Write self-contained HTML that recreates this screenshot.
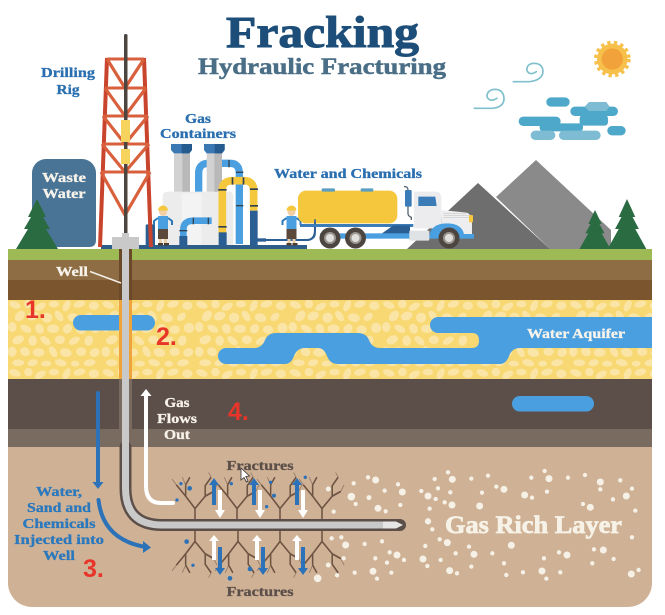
<!DOCTYPE html>
<html><head><meta charset="utf-8"><title>Fracking</title>
<style>html,body{margin:0;padding:0;background:#fff}svg{display:block}
text{font-family:"Liberation Serif",serif;font-weight:bold}</style></head>
<body>
<svg width="665" height="615" viewBox="0 0 665 615" xmlns="http://www.w3.org/2000/svg">
<defs>
<pattern id="peb" width="110" height="80" patternUnits="userSpaceOnUse" patternTransform="translate(8 299) scale(.85)">
<rect width="110" height="80" fill="#f7d873"/>
<g fill="#fbe5a6">
<ellipse cx="8" cy="7" rx="7" ry="4" transform="rotate(20 8 7)"/><ellipse cx="24" cy="6" rx="5" ry="5"/><ellipse cx="38" cy="9" rx="7" ry="4" transform="rotate(-30 38 9)"/><ellipse cx="54" cy="6" rx="6" ry="4"/><ellipse cx="69" cy="8" rx="4" ry="7" transform="rotate(25 69 8)"/><ellipse cx="84" cy="6" rx="7" ry="4" transform="rotate(-15 84 6)"/><ellipse cx="101" cy="8" rx="6" ry="5"/>
<ellipse cx="14" cy="20" rx="5" ry="7" transform="rotate(40 14 20)"/><ellipse cx="29" cy="20" rx="7" ry="5" transform="rotate(-20 29 20)"/><ellipse cx="46" cy="22" rx="6" ry="6"/><ellipse cx="60" cy="20" rx="4" ry="7" transform="rotate(-35 60 20)"/><ellipse cx="77" cy="22" rx="7" ry="5" transform="rotate(15 77 22)"/><ellipse cx="94" cy="21" rx="6" ry="4" transform="rotate(-40 94 21)"/>
<ellipse cx="5" cy="33" rx="5" ry="6"/><ellipse cx="21" cy="35" rx="7" ry="4" transform="rotate(30 21 35)"/><ellipse cx="37" cy="35" rx="5" ry="6" transform="rotate(-25 37 35)"/><ellipse cx="53" cy="35" rx="7" ry="5"/><ellipse cx="70" cy="35" rx="5" ry="6" transform="rotate(35 70 35)"/><ellipse cx="86" cy="36" rx="6" ry="5"/><ellipse cx="103" cy="34" rx="6" ry="6"/>
<ellipse cx="12" cy="48" rx="7" ry="5" transform="rotate(-25 12 48)"/><ellipse cx="29" cy="49" rx="5" ry="6"/><ellipse cx="44" cy="49" rx="7" ry="4" transform="rotate(40 44 49)"/><ellipse cx="61" cy="48" rx="6" ry="5"/><ellipse cx="78" cy="49" rx="7" ry="4" transform="rotate(-30 78 49)"/><ellipse cx="95" cy="49" rx="5" ry="6" transform="rotate(20 95 49)"/>
<ellipse cx="5" cy="62" rx="5" ry="6"/><ellipse cx="20" cy="62" rx="6" ry="5" transform="rotate(30 20 62)"/><ellipse cx="36" cy="63" rx="7" ry="5"/><ellipse cx="53" cy="62" rx="4" ry="7" transform="rotate(-30 53 62)"/><ellipse cx="68" cy="63" rx="7" ry="5" transform="rotate(15 68 63)"/><ellipse cx="86" cy="62" rx="6" ry="5"/><ellipse cx="102" cy="63" rx="6" ry="5" transform="rotate(-25 102 63)"/>
<ellipse cx="12" cy="75" rx="7" ry="4"/><ellipse cx="29" cy="75" rx="6" ry="4" transform="rotate(-15 29 75)"/><ellipse cx="45" cy="76" rx="6" ry="3.5"/><ellipse cx="62" cy="75" rx="7" ry="4" transform="rotate(15 62 75)"/><ellipse cx="79" cy="76" rx="5" ry="3.5"/><ellipse cx="96" cy="75" rx="7" ry="4" transform="rotate(-10 96 75)"/>
</g></pattern>
<g id="frac" fill="none" stroke="#6d5342" stroke-linejoin="round">
<path d="M0 0V-11L-11-24V-36L-6-44M-11-24L-22-36" stroke-width="1.800"/>
<path d="M0-11L12-24V-35L19-44M12-24L22-29" stroke-width="1.800"/>
<path d="M-22-36L-27-42M-11-36L-15-44M22-29L26-36M19-44L16-49" stroke-width=".8" stroke="#8a6f5c"/>
</g>
<g id="tree"><path d="M0-50L9-32H6L13-20H9L21 0H-21L-9-20H-13L-6-32H-9Z" fill="#2a6b42"/></g>
<g id="man">
<rect x="-5" y="22" width="10" height="11" fill="#5b4a3c"/>
<rect x="-4" y="33" width="3" height="5" fill="#ead0a8"/><rect x="1" y="33" width="3" height="5" fill="#ead0a8"/>
<rect x="-5" y="37" width="5" height="2.500" fill="#4d3d30"/><rect x="1" y="37" width="5" height="2.500" fill="#4d3d30"/>
<rect x="-5" y="10" width="10" height="13" fill="#4a9fe0"/>
<path d="M-5 12L-9 15V19M5 12L9 15V19" stroke="#2f79b8" stroke-width="2" fill="none"/>
<circle cx="0" cy="6" r="4" fill="#f2cfa5"/>
<path d="M-5 4.500A5 5 0 0 1 5 4.500Z" fill="#f5c73d"/>
</g>
<g id="wh"><circle r="10.500" fill="#4d4540"/><circle r="6" fill="#9b9690"/><circle r="4" fill="#e2e0dc"/></g>
</defs>

<!-- strata -->
<path d="M8 249H652V583A24 24 0 0 1 628 607H32A24 24 0 0 1 8 583Z" fill="#cfb296"/>
<rect x="8" y="249" width="644" height="11" fill="#9dba55"/>
<rect x="8" y="260" width="644" height="20" fill="#8e6d45"/>
<rect x="8" y="280" width="644" height="20" fill="#7a552e"/>
<rect x="8" y="300" width="644" height="79" fill="url(#peb)"/>
<rect x="8" y="379" width="644" height="50" fill="#5c4f49"/>
<rect x="8" y="429" width="644" height="18" fill="#7a6b60"/>

<!-- water -->
<g fill="#4a9fe0">
<rect x="73" y="315" width="82" height="15.500" rx="7.700"/>
<rect x="512" y="396" width="82" height="15.500" rx="7.700"/>
<path d="M652 317H438A8 8 0 0 0 438 333H472Q479 333 479 340.500Q479 348 472 348H380Q372 348 369 340Q366 333 358 333H276Q268 333 265 340Q262 348 254 348H226A8 8 0 0 0 226 364H285Q291 364 294 356Q297 348 305 348H318Q324 348 327 356Q330 364 338 364H500Q506 364 509 356Q512 348 520 348H652Z"/>
</g>

<!-- mountains -->
<polygon points="496,197 536,160 611,230 611,249 550,249" fill="#8a8a8a"/>
<polygon points="407,249 478,183 550,249" fill="#6e6e6e"/>
<use href="#tree" transform="translate(595,249) scale(.74,.78)"/>
<use href="#tree" transform="translate(627,249) scale(.92,1)"/>

<!-- waste tank -->
<path d="M32 247V173A14 14 0 0 1 46 159H82A14 14 0 0 1 96 173V240Q96 247 89 247Z" fill="#4a7496"/>
<use href="#tree" transform="translate(37,249)"/>

<!-- sun, wind, clouds (zoom coords) -->
<g transform="translate(333,0) scale(.3333)">
<circle cx="838" cy="177" r="46" fill="#f7c04a"/>
<circle cx="838" cy="177" r="50" fill="none" stroke="#f7c04a" stroke-width="10" stroke-dasharray="10 10"/>
<circle cx="838" cy="177" r="32" fill="#f2a23a"/>
<g fill="none" stroke="#7fc0cc" stroke-width="5" stroke-linecap="round">
<path d="M541 245H590Q630 240 630 213Q628 190 602 190Q580 192 582 212Q590 228 610 215"/>
<path d="M424 325H480Q515 320 513 293Q510 268 485 268Q462 270 462 290Q470 308 492 295"/>
</g>
<g fill="#4ea8c9">
<rect x="640" y="292" width="70" height="28" rx="14"/>
<rect x="712" y="320" width="143" height="28" rx="14"/>
<rect x="740" y="345" width="85" height="32" rx="10"/>
<rect x="557" y="350" width="126" height="28" rx="14"/>
<rect x="620" y="370" width="130" height="24" rx="10"/>
<rect x="823" y="378" width="55" height="28" rx="14"/>
</g>
<g fill="#7dbcd2">
<polygon points="768,306 820,306 830,320 820,333 768,333 755,320"/>
<rect x="593" y="392" width="74" height="28" rx="14"/>
<rect x="678" y="392" width="125" height="28" rx="14"/>
</g>
</g>

<!-- base plate -->
<rect x="101" y="245" width="206" height="4" fill="#2f5d8a"/>

<!-- gas containers (zoom6 coords) -->
<g transform="translate(140,130) scale(.3333)">
<path d="M68 345V200Q68 185 85 185H265Q280 185 280 200V345Z" fill="#ececec"/>
<rect x="125" y="190" width="60" height="155" fill="#f3f3f3"/>
<g fill="none" stroke-linejoin="round">
<path d="M176 185V130Q176 100 206 100H270Q298 100 298 130V342" stroke="#4a9fe0" stroke-width="22"/>
</g>
<rect x="102" y="70" width="48" height="115" fill="#d2d2d2"/><rect x="127" y="70" width="23" height="115" fill="#b9b9b9"/>
<rect x="200" y="70" width="46" height="115" fill="#d2d2d2"/><rect x="223" y="70" width="23" height="115" fill="#b9b9b9"/>
<path d="M93 42H156V60L148 70H102L93 60Z" fill="#3a78b4"/>
<path d="M192 42H254V60L246 70H200L192 60Z" fill="#3a78b4"/>
<path d="M125 42H156V60L148 70H125Z" fill="#255b8f"/>
<path d="M224 42H254V60L246 70H224Z" fill="#255b8f"/>
<g fill="none" stroke-linejoin="round">
<path d="M130 320V300Q130 272 160 272H215" stroke="#4a9fe0" stroke-width="20"/>
<path d="M247 310V180Q247 152 278 152H312Q341 152 341 182V242" stroke="#f5c73d" stroke-width="23"/>
<path d="M350 330H500Q525 330 525 300V268" stroke="#2b5f94" stroke-width="6"/>
</g>
<rect x="236" y="307" width="24" height="40" fill="#2b5f94"/>
<rect x="330" y="242" width="23" height="105" fill="#2b5f94"/>
<rect x="352" y="325" width="26" height="10" fill="#2b5f94"/>
<rect x="118" y="318" width="24" height="32" fill="#2b5f94"/>
<g fill="#33424f"><rect x="235" y="177" width="25" height="5"/><rect x="330" y="175" width="24" height="5"/><rect x="235" y="288" width="25" height="5"/><rect x="330" y="225" width="24" height="5"/><rect x="288" y="225" width="22" height="4"/><rect x="288" y="125" width="22" height="4"/><rect x="265" y="90" width="4" height="22"/><rect x="275" y="142" width="5" height="22"/><rect x="308" y="142" width="5" height="22"/><rect x="158" y="263" width="4" height="20"/><rect x="203" y="263" width="4" height="20"/><rect x="118" y="300" width="24" height="4"/></g>
<rect x="17" y="283" width="28" height="65" rx="4" fill="#2b5f94"/>
</g>

<!-- rig -->
<g fill="none" stroke="#c8442c">
<path d="M107 58L100 247M144 58L151 247" stroke-width="4"/>
<path d="M107 59H144M105 88H146M103 116H148M102 144H149M101 172H150" stroke="#d9603c" stroke-width="3"/>
<path d="M107 59L125 88L144 59M105 88L125 116L146 88M103 116L125 144L148 116M102 144L125 172L149 144M101 172L125 215L150 172" stroke="#d9603c" stroke-width="3.200"/>
</g>
<rect x="124" y="34" width="3.500" height="204" rx="1.500" fill="#4d4540"/>
<rect x="121" y="120" width="9" height="22" fill="#f6d35c"/>
<rect x="121" y="149" width="9" height="15" fill="#f6d35c"/>
<use href="#man" transform="translate(163,206)"/>
<use href="#man" transform="translate(291.500,206)"/>

<!-- truck (zoom7 coords: 270,160) -->
<g transform="translate(270,160) scale(.3333)">
<rect x="84" y="92" width="298" height="98" rx="24" fill="#f5c73d"/>
<rect x="155" y="85" width="40" height="10" rx="3" fill="#5b9ec4"/><rect x="272" y="85" width="38" height="10" rx="3" fill="#5b9ec4"/>
<path d="M135 178V220Q135 238 110 240" fill="none" stroke="#2b5f94" stroke-width="5"/>
<rect x="90" y="192" width="340" height="9" fill="#3b7cb8"/>
<rect x="150" y="201" width="270" height="20" fill="#fff"/>
<polygon points="335,221 370,196 420,196 420,221" fill="#2b5f94"/>
<rect x="150" y="220" width="290" height="16" fill="#4a9fe0"/>
<path d="M432 95H495Q512 95 514 112V205H432Z" fill="#ececee"/>
<polygon points="445,110 496,110 500,138 445,138" fill="#3b7cb8"/>
<path d="M514 150L590 158Q606 162 606 195V235H514Z" fill="#eeeef0"/>
<path d="M520 160H590M520 166H596M520 172H600" stroke="#c9c9c9" stroke-width="2"/>
<rect x="597" y="165" width="12" height="22" rx="3" fill="#f5c73d"/>
<path d="M476 236Q480 190 530 190Q575 190 582 222L612 222V236Z" fill="#4a9fe0"/>
<rect x="418" y="212" width="60" height="30" rx="3" fill="#dfe3e6"/>
<path d="M402 80Q414 78 414 92V160Q414 168 424 172V180" fill="none" stroke="#5a6570" stroke-width="4"/>
<rect x="405" y="90" width="20" height="50" rx="3" fill="#3b7cb8"/>
</g>
<use href="#wh" transform="translate(330,238)"/>
<use href="#wh" transform="translate(355.500,238)"/>
<use href="#wh" transform="translate(449,238)"/>

<!-- well pipe -->
<rect x="119" y="249" width="13" height="51" fill="#6a4a28"/>
<rect x="119" y="300" width="13" height="79" fill="#eea43a"/>
<rect x="119" y="379" width="13" height="68" fill="#7a6b60"/>
<path d="M125.500 447V488Q125.500 525 162 525H400" fill="none" stroke="#5c4f49" stroke-width="12" stroke-linecap="round"/>
<path d="M125.500 249V488Q125.500 525 162 525H383" fill="none" stroke="#c9c9c9" stroke-width="7"/>
<path d="M383 521.500H396L403 525L396 528.500H383Z" fill="#e6e6e6"/>
<rect x="112" y="237" width="27" height="12" fill="#c9c9c9"/>
<rect x="122" y="233" width="7" height="5" fill="#c9c9c9"/>
<path d="M90 271.500L121 283" stroke="#f4efe6" stroke-width="1.500"/>

<!-- fractures -->
<g>
<use href="#frac" transform="translate(195,519) scale(.85,.95)"/><use href="#frac" transform="translate(237,519) scale(.85,.95)"/><use href="#frac" transform="translate(280,519) scale(.85,.95)"/><use href="#frac" transform="translate(322,519) scale(.85,.95)"/>
<use href="#frac" transform="translate(195,531) scale(.85,-.95)"/><use href="#frac" transform="translate(238,531) scale(.85,-.95)"/><use href="#frac" transform="translate(280,531) scale(.85,-.95)"/><use href="#frac" transform="translate(322,531) scale(.85,-.95)"/>
</g>
<g fill="none" stroke-width="4">
<path d="M214 505V482M254 505V482M297 505V482M220 547V570M263 547V570M303 547V570" stroke="#2b72b8"/>
<path d="M220 490V512M260 490V512M303 490V512M214 560V540M257 560V540M297 560V540" stroke="#fff"/>
</g>
<g fill="#2b72b8">
<path d="M209 485L214 478L219 485ZM249 485L254 478L259 485ZM292 485L297 478L302 485Z"/>
<path d="M215 568L220 575L225 568ZM258 568L263 575L268 568ZM298 568L303 575L308 568Z"/>
</g>
<g fill="#fff">
<path d="M215 510L220 518L225 510ZM255 510L260 518L265 510ZM298 510L303 518L308 510Z"/>
<path d="M209 541L214 535L219 541ZM252 541L257 535L262 541ZM292 541L297 535L302 541Z"/>
</g>

<!-- main arrows -->
<path d="M98 393V484" stroke="#2b72b8" stroke-width="4" stroke-linecap="round"/>
<path d="M92.500 482H103.500L98 489Z" fill="#2b72b8"/>
<path d="M98.500 500Q103 540 146 547" fill="none" stroke="#2b72b8" stroke-width="4" stroke-linecap="round"/>
<path d="M143 541L151 547.500L143 553Z" fill="#2b72b8"/>
<path d="M173 503H161Q146 503 146 486V393" fill="none" stroke="#fff" stroke-width="4" stroke-linecap="round"/>
<path d="M140.500 396L146 389L151.500 396Z" fill="#fff"/>

<!-- dots -->
<g fill="#2b72b8" transform="translate(0,300) scale(.3333)">
<circle cx="543" cy="551" r="5"/><circle cx="569" cy="565" r="7"/><circle cx="531" cy="600" r="5"/><circle cx="694" cy="551" r="5"/><circle cx="812" cy="547" r="5"/><circle cx="822" cy="587" r="6"/><circle cx="800" cy="620" r="5"/><circle cx="916" cy="532" r="5"/><circle cx="560" cy="725" r="7"/><circle cx="579" cy="796" r="5"/><circle cx="690" cy="835" r="7"/><circle cx="750" cy="807" r="7"/>
</g>
<g fill="#f6f1e6" stroke="#f6f1e6" stroke-width="3" transform="translate(0,300) scale(.3333)">
<circle cx="985" cy="567" r="6"/><circle cx="953" cy="835" r="10"/><circle cx="985" cy="795" r="6"/><circle cx="995" cy="715" r="5"/>
</g>
<g fill="#f6f1e6" stroke="#f6f1e6" stroke-width="3" transform="translate(333,300) scale(.3333)">
<circle cx="128" cy="540" r="9"/><circle cx="105" cy="532" r="5"/><circle cx="62" cy="550" r="5"/><circle cx="195" cy="553" r="5"/><circle cx="155" cy="572" r="5"/><circle cx="208" cy="576" r="9"/><circle cx="55" cy="590" r="10"/><circle cx="108" cy="593" r="6"/><circle cx="68" cy="612" r="5"/><circle cx="135" cy="625" r="9"/><circle cx="158" cy="634" r="5"/><circle cx="202" cy="615" r="5"/>
<circle cx="345" cy="517" r="5"/><circle cx="305" cy="537" r="5"/><circle cx="358" cy="538" r="9"/><circle cx="265" cy="573" r="5"/><circle cx="285" cy="588" r="9"/><circle cx="315" cy="565" r="5"/><circle cx="352" cy="577" r="5"/><circle cx="308" cy="597" r="5"/><circle cx="335" cy="607" r="5"/><circle cx="357" cy="615" r="9"/><circle cx="290" cy="626" r="5"/>
<circle cx="415" cy="536" r="5"/><circle cx="465" cy="527" r="5"/><circle cx="447" cy="578" r="5"/><circle cx="490" cy="560" r="5"/><circle cx="513" cy="568" r="9"/><circle cx="440" cy="618" r="9"/><circle cx="575" cy="585" r="9"/><circle cx="597" cy="593" r="5"/><circle cx="642" cy="575" r="5"/><circle cx="595" cy="533" r="5"/><circle cx="635" cy="513" r="5"/><circle cx="648" cy="536" r="9"/><circle cx="705" cy="533" r="5"/><circle cx="756" cy="525" r="5"/><circle cx="802" cy="546" r="9"/><circle cx="802" cy="568" r="5"/><circle cx="862" cy="541" r="5"/><circle cx="897" cy="566" r="5"/><circle cx="880" cy="588" r="9"/><circle cx="840" cy="598" r="5"/><circle cx="750" cy="612" r="5"/><circle cx="772" cy="622" r="9"/><circle cx="907" cy="632" r="5"/>
<circle cx="285" cy="664" r="8"/><circle cx="298" cy="688" r="5"/><circle cx="897" cy="712" r="5"/><circle cx="320" cy="718" r="5"/><circle cx="343" cy="728" r="9"/><circle cx="277" cy="738" r="5"/><circle cx="408" cy="740" r="5"/><circle cx="423" cy="763" r="9"/><circle cx="368" cy="760" r="5"/><circle cx="270" cy="777" r="9"/><circle cx="323" cy="780" r="5"/><circle cx="283" cy="798" r="5"/><circle cx="415" cy="800" r="5"/><circle cx="350" cy="812" r="9"/><circle cx="372" cy="820" r="5"/><circle cx="478" cy="760" r="5"/><circle cx="535" cy="736" r="9"/><circle cx="513" cy="790" r="5"/><circle cx="520" cy="825" r="5"/><circle cx="570" cy="817" r="5"/><circle cx="627" cy="813" r="9"/><circle cx="640" cy="836" r="5"/><circle cx="682" cy="817" r="5"/><circle cx="633" cy="775" r="5"/><circle cx="678" cy="757" r="5"/><circle cx="702" cy="765" r="9"/><circle cx="783" cy="748" r="5"/><circle cx="811" cy="750" r="9"/><circle cx="778" cy="790" r="5"/><circle cx="842" cy="777" r="5"/><circle cx="895" cy="822" r="9"/><circle cx="917" cy="810" r="5"/>
<circle cx="25" cy="712" r="5"/><circle cx="38" cy="735" r="9"/><circle cx="95" cy="732" r="5"/><circle cx="147" cy="724" r="5"/><circle cx="170" cy="757" r="5"/><circle cx="192" cy="765" r="9"/><circle cx="213" cy="780" r="5"/><circle cx="127" cy="775" r="5"/><circle cx="162" cy="788" r="5"/><circle cx="32" cy="775" r="5"/><circle cx="120" cy="814" r="9"/><circle cx="132" cy="836" r="5"/><circle cx="175" cy="818" r="5"/><circle cx="65" cy="818" r="5"/><circle cx="12" cy="826" r="5"/><circle cx="2" cy="635" r="5"/>
</g>

<!-- labels -->
<text x="226" y="47" font-size="44" fill="#1d4e79" stroke="#1d4e79" stroke-width="1" textLength="193" lengthAdjust="spacingAndGlyphs">Fracking</text>
<text x="198" y="74" font-size="23" fill="#4a6e86" stroke="#4a6e86" stroke-width=".5" textLength="248" lengthAdjust="spacingAndGlyphs">Hydraulic Fracturing</text>
<g fill="#2a6fb0" font-size="14" text-anchor="middle" stroke="#2a6fb0" stroke-width=".3">
<text x="68" y="77" textLength="54" lengthAdjust="spacingAndGlyphs">Drilling</text>
<text x="68" y="94" textLength="23" lengthAdjust="spacingAndGlyphs">Rig</text>
<text x="198" y="123" textLength="26" lengthAdjust="spacingAndGlyphs">Gas</text>
<text x="198" y="138" textLength="76" lengthAdjust="spacingAndGlyphs">Containers</text>
<text x="348" y="178" textLength="148" lengthAdjust="spacingAndGlyphs">Water and Chemicals</text>
</g>
<g fill="#2a78bd" font-size="14" text-anchor="middle" stroke="#2a78bd" stroke-width=".3">
<text x="59" y="496" textLength="46" lengthAdjust="spacingAndGlyphs">Water,</text>
<text x="59" y="512" textLength="64" lengthAdjust="spacingAndGlyphs">Sand and</text>
<text x="59" y="528" textLength="73" lengthAdjust="spacingAndGlyphs">Chemicals</text>
<text x="59" y="544" textLength="90" lengthAdjust="spacingAndGlyphs">Injected into</text>
<text x="59" y="560" textLength="32" lengthAdjust="spacingAndGlyphs">Well</text>
</g>
<g fill="#f7f3ea" font-size="14" text-anchor="middle" stroke="#f7f3ea" stroke-width=".3">
<text x="64" y="182" textLength="44" lengthAdjust="spacingAndGlyphs">Waste</text>
<text x="64" y="198" textLength="43" lengthAdjust="spacingAndGlyphs">Water</text>
<text x="72" y="276" textLength="32" lengthAdjust="spacingAndGlyphs">Well</text>
<text x="576" y="338" textLength="98" lengthAdjust="spacingAndGlyphs">Water Aquifer</text>
<text x="177" y="407" textLength="25" lengthAdjust="spacingAndGlyphs">Gas</text>
<text x="177" y="423" textLength="40" lengthAdjust="spacingAndGlyphs">Flows</text>
<text x="177" y="439" textLength="26" lengthAdjust="spacingAndGlyphs">Out</text>
</g>
<g fill="#5c4f49" font-size="14" text-anchor="middle" stroke="#5c4f49" stroke-width=".3">
<text x="260" y="470" textLength="67" lengthAdjust="spacingAndGlyphs">Fractures</text>
<text x="260" y="596" textLength="67" lengthAdjust="spacingAndGlyphs">Fractures</text>
</g>
<text x="445" y="533" font-size="25" fill="#f7f2e7" stroke="#f7f2e7" stroke-width=".7" textLength="177" lengthAdjust="spacingAndGlyphs">Gas Rich Layer</text>
<g fill="#e8352a" font-size="25">
<text x="25" y="318" style="font-family:'Liberation Sans',sans-serif">1.</text>
<text x="156" y="345" style="font-family:'Liberation Sans',sans-serif">2.</text>
<text x="83" y="577" style="font-family:'Liberation Sans',sans-serif">3.</text>
<text x="228" y="420" style="font-family:'Liberation Sans',sans-serif">4.</text>
</g>

<!-- cursor -->
<path d="M241 468V480L244 477.500L246.500 482L248 481L245.800 476.500L249.500 476Z" fill="#fff" stroke="#333" stroke-width=".8"/>
</svg>
</body></html>
